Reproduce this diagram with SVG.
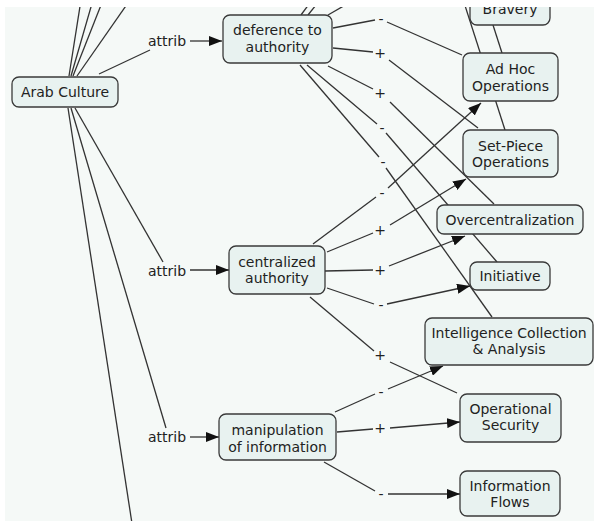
<svg xmlns="http://www.w3.org/2000/svg" width="594" height="521" viewBox="0 0 594 521">
<style>
.n rect{fill:#e8f2f0;stroke:#3a3a3a;stroke-width:1.3}
text{font-family:"DejaVu Sans","Liberation Sans",sans-serif;font-size:14px;fill:#222}
.n text{text-anchor:middle}
.lb{text-anchor:middle}
#links line{stroke:#333;stroke-width:1.3}
.a{marker-end:url(#ah)}
</style>
<defs>
<marker id="ah" viewBox="0 0 13 10" refX="13" refY="5" markerWidth="13" markerHeight="10" orient="auto" markerUnits="userSpaceOnUse"><path d="M0,0 L13,5 L0,10 z" fill="#111"/></marker>
<clipPath id="cp"><rect x="5" y="7" width="589" height="514"/></clipPath>
</defs>
<rect width="594" height="521" fill="#ffffff"/>
<g clip-path="url(#cp)">
<rect x="5" y="7" width="589" height="514" fill="#f5f9f7"/>
<g id="links">
<!-- Arab Culture upward -->
<line x1="69" y1="76" x2="81" y2="0"/>
<line x1="71" y1="76" x2="93" y2="0"/>
<line x1="73" y1="76" x2="103" y2="0"/>
<line x1="77" y1="76" x2="130" y2="0"/>
<!-- Arab Culture to attribs -->
<line x1="99" y1="74" x2="150" y2="50"/>
<line x1="190" y1="41" x2="222" y2="41" class="a"/>
<line x1="75" y1="108" x2="163" y2="262"/>
<line x1="190" y1="270" x2="229" y2="270" class="a"/>
<line x1="71" y1="108" x2="166" y2="428"/>
<line x1="190" y1="437" x2="219" y2="437" class="a"/>
<line x1="68" y1="108" x2="133" y2="530"/>
<!-- deference upward -->
<line x1="301" y1="15" x2="312" y2="0"/>
<line x1="308" y1="15" x2="320" y2="0"/>
<line x1="328" y1="15" x2="354" y2="0"/>
<!-- deference out -->
<line x1="333" y1="28" x2="375" y2="20"/>
<line x1="387" y1="22" x2="462" y2="55"/>
<line x1="333" y1="48" x2="373" y2="52"/>
<line x1="389" y1="60" x2="478" y2="128"/>
<line x1="328" y1="66" x2="373" y2="89"/>
<line x1="390" y1="102" x2="494" y2="204"/>
<line x1="307" y1="65" x2="377" y2="124"/>
<line x1="386" y1="133" x2="497" y2="262"/>
<line x1="300" y1="65" x2="379" y2="157"/>
<line x1="386" y1="168" x2="492" y2="317"/>
<!-- top lines near Bravery / Ad Hoc -->
<line x1="460" y1="-10" x2="505" y2="130"/>
<line x1="493" y1="25" x2="502" y2="53"/>
<!-- centralized out -->
<line x1="313" y1="244" x2="376" y2="197"/>
<line x1="388" y1="188" x2="481" y2="103" class="a"/>
<line x1="327" y1="252" x2="373" y2="233"/>
<line x1="390" y1="225" x2="466" y2="179" class="a"/>
<line x1="325" y1="271" x2="373" y2="270"/>
<line x1="389" y1="266" x2="465" y2="236" class="a"/>
<line x1="327" y1="288" x2="374" y2="304"/>
<line x1="387" y1="304" x2="470" y2="286" class="a"/>
<line x1="310" y1="297" x2="374" y2="351"/>
<line x1="390" y1="362" x2="457" y2="393"/>
<!-- manipulation out -->
<line x1="335" y1="412" x2="375" y2="394"/>
<line x1="388" y1="389" x2="443" y2="366" class="a"/>
<line x1="337" y1="432" x2="373" y2="429"/>
<line x1="390" y1="428" x2="460" y2="422" class="a"/>
<line x1="324" y1="462" x2="375" y2="491"/>
<line x1="388" y1="494" x2="460" y2="494" class="a"/>
</g>
<g id="labels">
<text class="lb" x="167" y="46">attrib</text>
<text class="lb" x="167" y="276">attrib</text>
<text class="lb" x="167" y="442">attrib</text>
<text class="lb" x="381" y="24">-</text>
<text class="lb" x="380" y="58">+</text>
<text class="lb" x="380" y="98">+</text>
<text class="lb" x="382" y="133">-</text>
<text class="lb" x="383" y="167">-</text>
<text class="lb" x="382" y="198">-</text>
<text class="lb" x="380" y="235">+</text>
<text class="lb" x="380" y="275">+</text>
<text class="lb" x="381" y="310">-</text>
<text class="lb" x="380" y="360">+</text>
<text class="lb" x="381" y="397">-</text>
<text class="lb" x="380" y="433">+</text>
<text class="lb" x="381" y="499">-</text>
</g>
<g id="arab-culture" class="n"><rect x="12" y="77" width="106" height="30" rx="7"/><text x="65" y="97">Arab Culture</text></g>
<g id="deference" class="n"><rect x="223" y="15" width="109" height="48" rx="7"/><text x="277.5" y="35">deference to</text><text x="277.5" y="52">authority</text></g>
<g id="centralized" class="n"><rect x="229" y="246" width="96" height="48" rx="7"/><text x="277" y="267">centralized</text><text x="277" y="283">authority</text></g>
<g id="manipulation" class="n"><rect x="219" y="414" width="117" height="46" rx="7"/><text x="277.5" y="435">manipulation</text><text x="277.5" y="452">of information</text></g>
<g id="bravery" class="n"><rect x="470" y="-20" width="80" height="45" rx="7"/><text x="510" y="14">Bravery</text></g>
<g id="ad-hoc" class="n"><rect x="463" y="53" width="95" height="48" rx="7"/><text x="510.5" y="74">Ad Hoc</text><text x="510.5" y="91">Operations</text></g>
<g id="set-piece" class="n"><rect x="463" y="130" width="95" height="47" rx="7"/><text x="510.5" y="151">Set-Piece</text><text x="510.5" y="167">Operations</text></g>
<g id="overcentralization" class="n"><rect x="437" y="205" width="146" height="29" rx="7"/><text x="510" y="225">Overcentralization</text></g>
<g id="initiative" class="n"><rect x="470" y="262" width="80" height="28" rx="7"/><text x="510" y="281">Initiative</text></g>
<g id="intelligence" class="n"><rect x="425" y="318" width="168" height="47" rx="7"/><text x="509" y="338">Intelligence Collection</text><text x="509" y="354">&amp; Analysis</text></g>
<g id="opsec" class="n"><rect x="460" y="394" width="101" height="48" rx="7"/><text x="510.5" y="414">Operational</text><text x="510.5" y="430">Security</text></g>
<g id="info-flows" class="n"><rect x="460" y="471" width="100" height="45" rx="7"/><text x="510" y="491">Information</text><text x="510" y="507">Flows</text></g>
</g>
</svg>
